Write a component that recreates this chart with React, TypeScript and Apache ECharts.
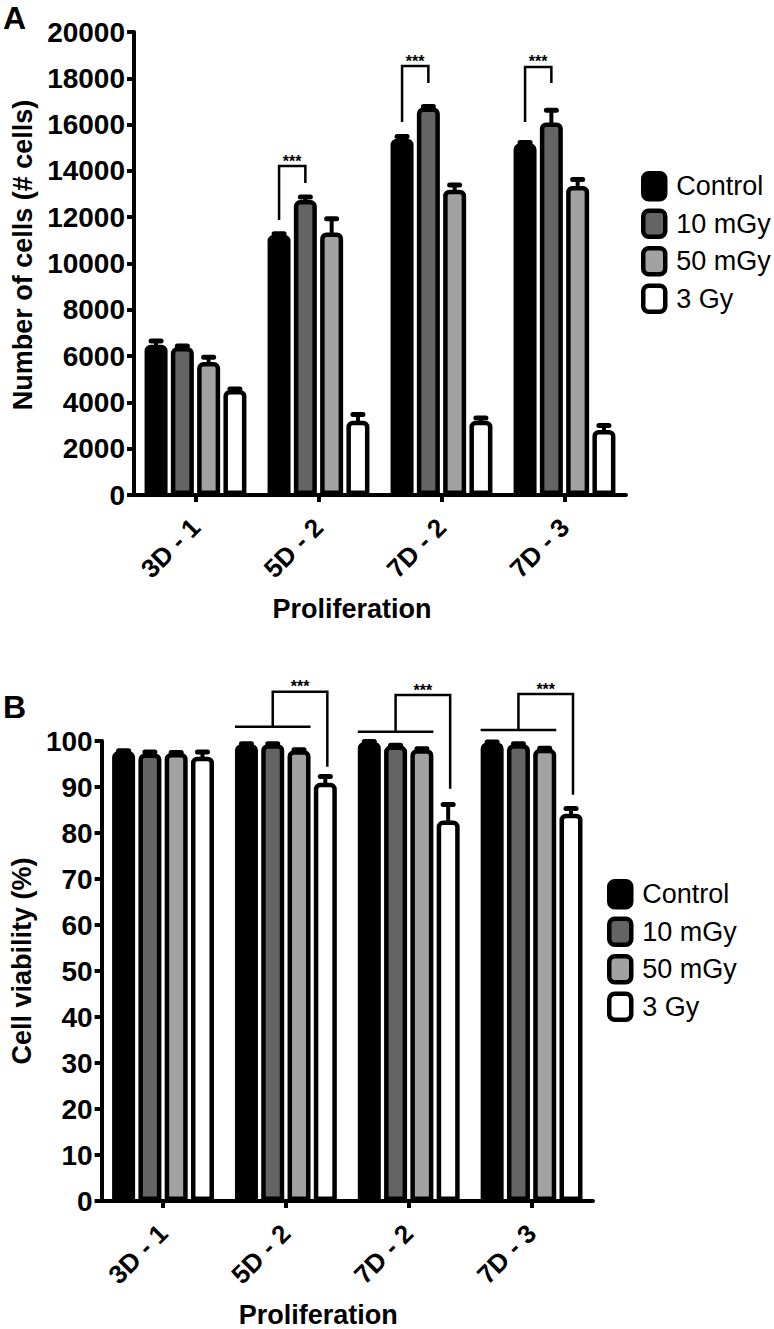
import React, { useEffect, useRef } from "react";
import * as echarts from "echarts";

// ---------- data ----------
const categories = ["3D - 1", "5D - 2", "7D - 2", "7D - 3"];
const groups = ["Control", "10 mGy", "50 mGy", "3 Gy"];
const fills = ["#000000", "#646464", "#a2a2a2", "#ffffff"];

// Panel A: number of cells
const cellsControl = [6490, 11240, 15390, 15190];
const cells10mGy = [6390, 12740, 16740, 16090];
const cells50mGy = [5740, 11340, 13190, 13350];
const cells3Gy = [4540, 3210, 3210, 2810];
const cellsControlErr = [165, 40, 95, 40];
const cells10mGyErr = [50, 135, 40, 535];
const cells50mGyErr = [205, 595, 205, 275];
const cells3GyErr = [40, 265, 115, 195];
const cellsTicks = { min: 0, max: 20000, interval: 2000 };

// Panel A significance brackets (Control vs 10 mGy)
const cellsSigCat = [1, 2, 3];
const cellsSigLeftEnd = [11880, 16110, 16110];
const cellsSigTop = [14210, 18530, 18490];
const cellsSigRightEnd = [13480, 17800, 17800];

// Panel B: cell viability (%)
const viabControl = [97.8, 99.3, 99.8, 99.7];
const viab10mGy = [97.3, 99.3, 99.0, 99.3];
const viab50mGy = [97.4, 98.0, 98.2, 98.3];
const viab3Gy = [96.6, 90.9, 82.7, 84.2];
const viabControlErr = [0.1, 0.1, 0.1, 0.1];
const viab10mGyErr = [0.3, 0.1, 0.1, 0.1];
const viab50mGyErr = [0.1, 0.1, 0.1, 0.1];
const viab3GyErr = [1.0, 1.4, 3.5, 1.1];
const viabTicks = { min: 0, max: 100, interval: 10 };

// Panel B significance brackets (Control..50 mGy vs 3 Gy)
const viabSigCat = [1, 2, 3];
const viabSigGroupLine = [103.1, 102.0, 102.4];
const viabSigTop = [110.7, 110.0, 110.2];
const viabSigRightEnd = [94.4, 89.6, 88.3];

// ---------- styling constants ----------
const FONT = "'Liberation Sans', Arial, Helvetica, sans-serif";
const BAR_W = 23;
const BAR_GAP = 0.143;
const BORDER = 4.5;
const PITCH = BAR_W * (1 + BAR_GAP);
const off = (i: number) => (i - 1.5) * PITCH;

function buildOption() {
  const cellsVals = [cellsControl, cells10mGy, cells50mGy, cells3Gy];
  const cellsErrs = [cellsControlErr, cells10mGyErr, cells50mGyErr, cells3GyErr];
  const viabVals = [viabControl, viab10mGy, viab50mGy, viab3Gy];
  const viabErrs = [viabControlErr, viab10mGyErr, viab50mGyErr, viab3GyErr];

  const barSeries = (vals: number[][], axis: number) =>
    groups.map((g, s) => ({
      type: "bar",
      name: g,
      xAxisIndex: axis,
      yAxisIndex: axis,
      data: vals[s],
      barWidth: BAR_W,
      barGap: `${BAR_GAP * 100}%`,
      itemStyle: {
        color: fills[s],
        borderColor: "#000",
        borderWidth: BORDER,
        borderRadius: [4, 4, 0, 0],
      },
      z: 2,
    }));

  const errData = (vals: number[][], errs: number[][]) => {
    const out: number[][] = [];
    for (let s = 0; s < vals.length; s++)
      for (let c = 0; c < vals[s].length; c++) out.push([c, vals[s][c], errs[s][c], s]);
    return out;
  };

  const errSeries = (vals: number[][], errs: number[][], axis: number) => ({
    type: "custom",
    xAxisIndex: axis,
    yAxisIndex: axis,
    clip: false,
    z: 3,
    data: errData(vals, errs),
    encode: { x: 0, y: 1 },
    renderItem: (_p: any, api: any) => {
      const c = api.value(0);
      const v = api.value(1);
      const e = api.value(2);
      const s = api.value(3);
      const b = api.coord([c, v]);
      const t = api.coord([c, v + e]);
      const x = b[0] + off(s);
      return {
        type: "group",
        children: [
          { type: "line", shape: { x1: x, y1: b[1] + 2, x2: x, y2: t[1] }, style: { stroke: "#000", lineWidth: 4 } },
          {
            type: "line",
            shape: { x1: x - 5, y1: t[1], x2: x + 5, y2: t[1] },
            style: { stroke: "#000", lineWidth: 5, lineCap: "round" },
          },
        ],
      };
    },
  });

  const starText = (x: number, y: number) => ({
    type: "text",
    style: {
      text: "***",
      x,
      y,
      fill: "#000",
      font: `bold 16px ${FONT}`,
      align: "center",
      verticalAlign: "middle",
    },
  });

  const cellsSigSeries = {
    type: "custom",
    xAxisIndex: 0,
    yAxisIndex: 0,
    clip: false,
    z: 4,
    data: cellsSigCat.map((c, i) => [c, cellsSigLeftEnd[i], cellsSigTop[i], cellsSigRightEnd[i]]),
    encode: { x: 0, y: 2 },
    renderItem: (_p: any, api: any) => {
      const c = api.value(0);
      const pL = api.coord([c, api.value(1)]);
      const pT = api.coord([c, api.value(2)]);
      const pR = api.coord([c, api.value(3)]);
      const xL = pL[0] + off(0);
      const xR = pL[0] + off(1);
      return {
        type: "group",
        children: [
          {
            type: "polyline",
            shape: { points: [[xL, pL[1]], [xL, pT[1]], [xR, pT[1]], [xR, pR[1]]] },
            style: { stroke: "#000", lineWidth: 2.5, fill: "none" },
          },
          starText((xL + xR) / 2, pT[1] - 5),
        ],
      };
    },
  };

  const viabSigSeries = {
    type: "custom",
    xAxisIndex: 1,
    yAxisIndex: 1,
    clip: false,
    z: 4,
    data: viabSigCat.map((c, i) => [c, viabSigGroupLine[i], viabSigTop[i], viabSigRightEnd[i]]),
    encode: { x: 0, y: 2 },
    renderItem: (_p: any, api: any) => {
      const c = api.value(0);
      const pG = api.coord([c, api.value(1)]);
      const pT = api.coord([c, api.value(2)]);
      const pR = api.coord([c, api.value(3)]);
      const cx = pG[0];
      const xGL = cx + off(0) - BAR_W / 2;
      const xGR = cx + off(2) + BAR_W / 2;
      const xM = (xGL + xGR) / 2;
      const xR = cx + off(3) + 2;
      return {
        type: "group",
        children: [
          {
            type: "line",
            shape: { x1: xGL, y1: pG[1], x2: xGR, y2: pG[1] },
            style: { stroke: "#000", lineWidth: 2.5 },
          },
          {
            type: "polyline",
            shape: { points: [[xM, pG[1]], [xM, pT[1]], [xR, pT[1]], [xR, pR[1]]] },
            style: { stroke: "#000", lineWidth: 2.5, fill: "none" },
          },
          starText((xM + xR) / 2, pT[1] - 5),
        ],
      };
    },
  };

  const axisLine = { show: true, lineStyle: { color: "#000", width: 4 } };
  const axisTick = { show: true, length: 7, lineStyle: { color: "#000", width: 4 } };

  const xAxis = (gridIndex: number, padRight: number) => ({
    type: "category",
    gridIndex,
    data: categories,
    axisLine,
    axisTick: { ...axisTick, alignWithLabel: true, interval: 0 },
    axisLabel: {
      interval: 0,
      rotate: 45,
      margin: 28,
      color: "#000",
      fontSize: 26,
      fontWeight: "bold",
      fontFamily: FONT,
    },
    name: "Proliferation",
    nameLocation: "middle",
    nameGap: 100,
    nameTextStyle: {
      color: "#000",
      fontSize: 27,
      fontWeight: "bold",
      fontFamily: FONT,
      padding: [0, padRight, 0, 0],
    },
    splitLine: { show: false },
  });

  const yAxis = (gridIndex: number, ticks: any, name: string, gap: number, padLeft: number) => ({
    type: "value",
    gridIndex,
    min: ticks.min,
    max: ticks.max,
    interval: ticks.interval,
    axisLine,
    axisTick,
    splitLine: { show: false },
    axisLabel: {
      margin: 9,
      color: "#000",
      fontSize: 28,
      fontWeight: "bold",
      fontFamily: FONT,
      formatter: (v: number) => String(v),
    },
    name,
    nameLocation: "middle",
    nameRotate: 90,
    nameGap: gap,
    nameTextStyle: {
      color: "#000",
      fontSize: 27,
      fontWeight: "bold",
      fontFamily: FONT,
      padding: [0, 0, 0, padLeft],
    },
  });

  const legend = (left: number, top: number) => ({
    data: groups,
    orient: "vertical",
    left,
    top,
    padding: 0,
    itemWidth: 22,
    itemHeight: 26,
    itemGap: 7,
    icon: "roundRect",
    selectedMode: false,
    itemStyle: { borderColor: "#000", borderWidth: 4.5 },
    textStyle: {
      color: "#000",
      fontSize: 27,
      fontFamily: FONT,
      lineHeight: 30,
      padding: [0, 0, 0, 6],
    },
  });

  return {
    animation: false,
    backgroundColor: "#fff",
    textStyle: { fontFamily: FONT },
    title: [
      { text: "A", left: 3, top: 2, padding: 0, textStyle: { fontSize: 32, fontWeight: "bold", color: "#000", fontFamily: FONT } },
      { text: "B", left: 3, top: 691, padding: 0, textStyle: { fontSize: 32, fontWeight: "bold", color: "#000", fontFamily: FONT } },
    ],
    legend: [legend(641, 171), legend(607, 879)],
    grid: [
      { left: 134, top: 32, width: 492, height: 463 },
      { left: 100, top: 741, width: 493, height: 462 },
    ],
    xAxis: [xAxis(0, 56), xAxis(1, 58)],
    yAxis: [
      yAxis(0, cellsTicks, "Number of cells (# cells)", 97, 17),
      yAxis(1, viabTicks, "Cell viability (%)", 62, 20),
    ],
    series: [
      ...barSeries(cellsVals, 0),
      ...barSeries(viabVals, 1),
      errSeries(cellsVals, cellsErrs, 0),
      errSeries(viabVals, viabErrs, 1),
      cellsSigSeries,
      viabSigSeries,
    ],
  };
}

export default function App() {
  const ref = useRef<HTMLDivElement>(null);
  useEffect(() => {
    if (!ref.current) return;
    const chart = echarts.init(ref.current, undefined, { renderer: "svg" });
    chart.setOption(buildOption() as any);
    return () => chart.dispose();
  }, []);
  return (
    <div
      ref={ref}
      style={{ position: "absolute", left: 0, top: 0, width: 774, height: 1329, background: "#fff" }}
    />
  );
}
